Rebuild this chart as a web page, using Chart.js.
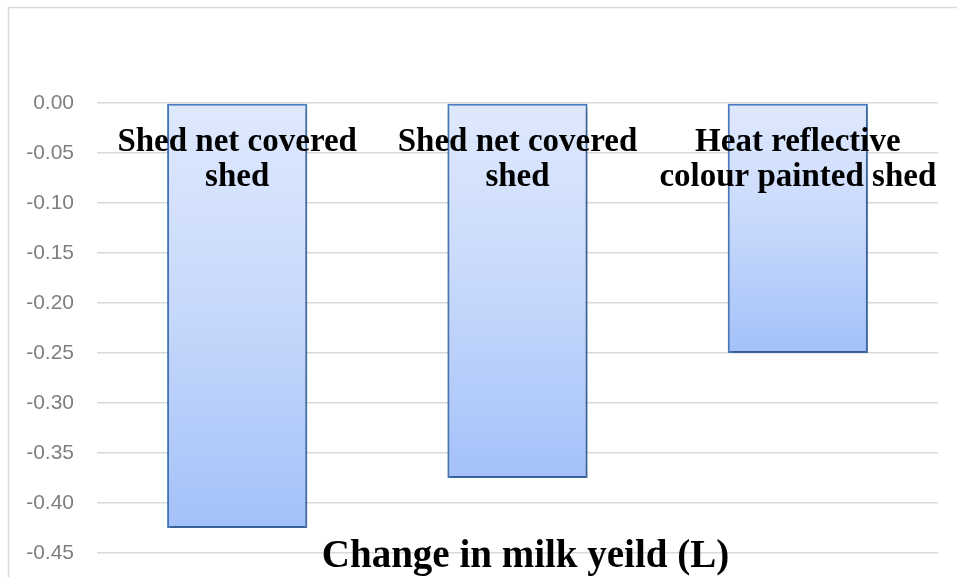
<!DOCTYPE html>
<html>
<head>
<meta charset="utf-8">
<script src="https://cdn.jsdelivr.net/npm/chart.js@4.4.1/dist/chart.umd.min.js"></script>
<style>
  html, body { margin: 0; padding: 0; background: #fff; }
  #wrap { position: relative; width: 957px; height: 577px; }
</style>
</head>
<body>
<div id="wrap"><canvas id="milk" width="957" height="577"></canvas></div>
<script>
const categories = [
    ['Shed net covered', 'shed'],
    ['Shed net covered', 'shed'],
    ['Heat reflective', 'colour painted shed']
];
const milkChange = [-0.425, -0.375, -0.25];
const yMin = -0.45;
const yMax = 0;
const yStep = 0.05;
const axisTitle = 'Change in milk yeild (L)';

// light border round the whole picture, as in the source document
const framePlugin = {
    id: 'frame',
    beforeDraw(chart) {
        const ctx = chart.ctx;
        ctx.save();
        ctx.strokeStyle = '#d9d9d9';
        ctx.lineWidth = 1.5;
        ctx.beginPath();
        ctx.moveTo(8.5, chart.height);
        ctx.lineTo(8.5, 7.5);
        ctx.lineTo(chart.width, 7.5);
        ctx.stroke();
        ctx.restore();
    }
};

const shadowPlugin = {
    id: 'barShadow',
    beforeDatasetDraw(chart) {
        const ctx = chart.ctx;
        ctx.save();
        ctx.shadowColor = 'rgba(0,0,0,0.35)';
        ctx.shadowBlur = 4;
        ctx.shadowOffsetX = 1;
        ctx.shadowOffsetY = 2;
    },
    afterDatasetDraw(chart) {
        chart.ctx.restore();
    }
};

const labelPlugin = {
    id: 'barLabels',
    afterDatasetsDraw(chart) {
        const ctx = chart.ctx;
        const meta = chart.getDatasetMeta(0);
        const y0 = chart.scales.y.getPixelForValue(0);
        ctx.save();
        ctx.fillStyle = '#000';
        ctx.textAlign = 'center';
        ctx.textBaseline = 'alphabetic';
        ctx.font = 'bold 33px "Liberation Serif", "Times New Roman", serif';
        meta.data.forEach((bar, i) => {
            categories[i].forEach((line, j) => {
                ctx.fillText(line, bar.x, y0 + 48 + j * 35);
            });
        });
        ctx.font = 'bold 39px "Liberation Serif", "Times New Roman", serif';
        ctx.fillText(axisTitle, (chart.chartArea.left + chart.chartArea.right) / 2 + 8, 567);
        ctx.restore();
    }
};

const ctx = document.getElementById('milk').getContext('2d');
const chart = new Chart(ctx, {
    type: 'bar',
    data: {
        labels: categories.map(c => c.join(' ')),
        datasets: [{
            data: milkChange,
            backgroundColor: function (context) {
                const ch = context.chart;
                const y = ch.scales && ch.scales.y;
                if (!y || context.parsed === undefined) return '#bcd2fb';
                const top = y.getPixelForValue(0);
                const bottom = y.getPixelForValue(context.parsed.y);
                if (!isFinite(top) || !isFinite(bottom) || top === bottom) return '#bcd2fb';
                const g = ch.ctx.createLinearGradient(0, top, 0, bottom);
                g.addColorStop(0, '#dfe9fd');
                g.addColorStop(0.5, '#c6d8fb');
                g.addColorStop(1, '#a3c1f9');
                return g;
            },
            borderColor: '#4a7ec6',
            borderWidth: 2,
            borderSkipped: false,
            barPercentage: 0.5,
            categoryPercentage: 1.0
        }]
    },
    options: {
        responsive: false,
        animation: false,
        layout: {
            padding: { left: 0, right: 19, top: 103, bottom: 24 }
        },
        plugins: {
            legend: { display: false },
            tooltip: { enabled: false }
        },
        scales: {
            x: {
                display: false
            },
            y: {
                min: yMin,
                max: yMax,
                afterFit: function (scale) {
                    scale.width = 97;
                    scale.paddingTop = 0;
                    scale.paddingBottom = 0;
                },
                ticks: {
                    stepSize: yStep,
                    padding: 23,
                    color: '#7f7f7f',
                    font: { family: '"Liberation Sans", Arial, sans-serif', size: 21 },
                    callback: function (value) {
                        return Number(value).toFixed(2);
                    }
                },
                grid: {
                    color: '#d9d9d9',
                    lineWidth: 1.5,
                    drawTicks: false
                },
                border: { display: false }
            }
        }
    },
    plugins: [framePlugin, shadowPlugin, labelPlugin]
});
</script>
</body>
</html>
